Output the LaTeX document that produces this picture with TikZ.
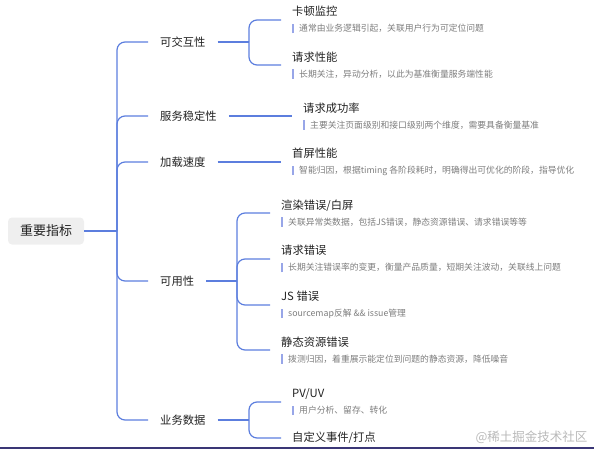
\documentclass[tikz,border=0pt]{standalone}
\usepackage{fontspec}
\setmainfont{Noto Sans CJK SC}
\usepackage{xcolor}
\usepackage{tikz}
\usetikzlibrary{positioning,calc}
\definecolor{linkblue}{RGB}{92,126,222}
\definecolor{barblue}{RGB}{152,166,232}
\definecolor{titleink}{RGB}{34,34,34}
\definecolor{descink}{RGB}{125,125,125}
\definecolor{rootfill}{RGB}{239,239,239}
\definecolor{edgenavy}{RGB}{58,54,118}
\newcommand{\desctext}[1]{{\color{barblue}\rule[-1.5pt]{1.5pt}{9.5pt}}\hspace{5.5pt}{\fontsize{8.8}{10}\selectfont\color{descink}#1}}
\tikzset{
  rootbox/.style={fill=rootfill, rounded corners=4pt, minimum width=76pt, minimum height=27pt,
                  font=\fontsize{13}{15}\selectfont, text=titleink},
  topic/.style={anchor=west, inner xsep=12pt, inner ysep=2pt, font=\fontsize{11.3}{13}\selectfont, text=titleink},
  leaf/.style={anchor=west, inner xsep=11pt, inner ysep=2pt, align=left,
               font=\fontsize{11.3}{13}\selectfont, text=titleink},
  link/.style={draw=linkblue, line width=1.2pt, rounded corners=8pt},
}

\begin{document}
\begin{tikzpicture}[x=1pt, y=-1pt]
  \useasboundingbox (0,0) rectangle (594,449);
  \node[rootbox] (root) at (46,231) {重要指标};
  \coordinate (trunk) at (117,231);

  \node[topic] (jiaohu)  at (148,42)  {可交互性};
  \node[topic] (wending) at (148,116) {服务稳定性};
  \node[topic] (jiazai)  at (148,162) {加载速度};
  \node[topic] (keyong)  at (148,281) {可用性};
  \node[topic] (yewu)    at (148,420) {业务数据};

  \node[leaf] (kadun)     at (281,20)  {卡顿监控\\[3pt]\desctext{通常由业务逻辑引起，关联用户行为可定位问题}};
  \node[leaf] (qingqiu)   at (281,65)  {请求性能\\[3pt]\desctext{长期关注，异动分析，以此为基准衡量服务端性能}};
  \node[leaf] (chenggong) at (292,116) {请求成功率\\[3pt]\desctext{主要关注页面级别和接口级别两个维度，需要具备衡量基准}};
  \node[leaf] (shouping)  at (281,162) {首屏性能\\[3pt]\desctext{智能归因，根据timing 各阶段耗时，明确得出可优化的阶段，指导优化}};
  \node[leaf] (xuanran)   at (270,213) {渲染错误/白屏\\[3pt]\desctext{关联异常类数据，包括JS错误，静态资源错误、请求错误等等}};
  \node[leaf] (qqcuowu)   at (270,259) {请求错误\\[3pt]\desctext{长期关注错误率的变更，衡量产品质量，短期关注波动，关联线上问题}};
  \node[leaf] (jscuowu)   at (270,305) {JS 错误\\[3pt]\desctext{sourcemap反解 \&\& issue管理}};
  \node[leaf] (jingtai)   at (270,350) {静态资源错误\\[3pt]\desctext{拨测归因，着重展示能定位到问题的静态资源，降低噪音}};
  \node[leaf] (pvuv)      at (281,402) {PV/UV\\[3pt]\desctext{用户分析、留存、转化}};
  \node[leaf] (zidingyi)  at (281,438) {自定义事件/打点};

  \coordinate (jhfork) at (249,42);
  \coordinate (kyfork) at (237,281);
  \coordinate (ywfork) at (249,420);

  \draw[link] (root.east) -- (trunk);
  \foreach \t in {jiaohu,wending,jiazai,keyong,yewu}
    \draw[link] (trunk) |- (\t.west);

  \draw[link] (jiaohu.east) -- (jhfork);
  \foreach \c in {kadun,qingqiu}
    \draw[link] (jhfork) |- (\c.west);
  \draw[link] (wending.east) -- (chenggong.west);
  \draw[link] (jiazai.east) -- (shouping.west);
  \draw[link] (keyong.east) -- (kyfork);
  \foreach \c in {xuanran,qqcuowu,jscuowu,jingtai}
    \draw[link] (kyfork) |- (\c.west);
  \draw[link] (yewu.east) -- (ywfork);
  \foreach \c in {pvuv,zidingyi}
    \draw[link] (ywfork) |- (\c.west);

  \node[anchor=east, text=gray!55, font=\fontsize{12.5}{14}\selectfont] (juejin) at (591,437) {@稀土掘金技术社区};
  \draw[edgenavy, line width=2pt] (0,448) -- (594,448);
\end{tikzpicture}
\end{document}
